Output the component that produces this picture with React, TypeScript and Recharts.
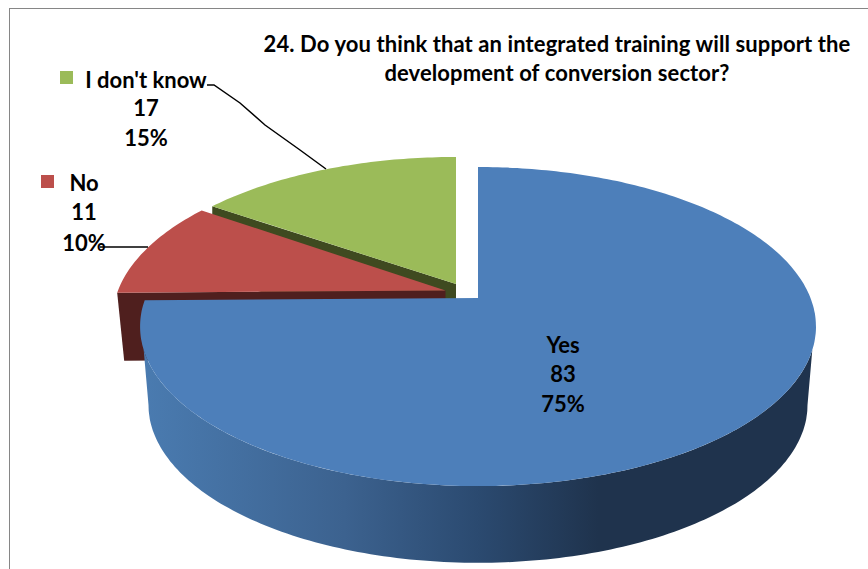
import { PieChart, Pie } from "recharts";

// drawn counter-clockwise from the top so the big slice paints last
const sliceNames = ["I don't know", "No", "Yes"];
const sliceValues = [17, 11, 83];
const sliceColors = ["#9bbb59", "#bc4f4b", "#4d7fba"];
const titleLines = [
  "24. Do you think that an integrated training will support the",
  "development of conversion sector?",
];

const data = sliceNames.map((name, i) => ({
  name,
  value: sliceValues[i],
  fill: sliceColors[i],
}));

// perspective of the tilted disc
const TILT = 0.179;
const SQUASH = 0.4644;
const RADIUS = 332.5;

const explode: Record<string, any> = {
  "I don't know": { dx: -22, dy: -14, sx: 0.985, sy: 0.97, wall: 70, wallColor: "#3f4a20" },
  No: { dx: -32.5, dy: -7.5, sx: 0.985, sy: 1, wall: 68, wallColor: "#4f1f1e" },
  Yes: { dx: 0, dy: 0, sx: 1, sy: 1, wall: 0, wallColor: "" },
};

const labelLayout: Record<string, any> = {
  "I don't know": {
    x: 146, ys: [88, 116, 146], nameX: 146,
    key: [60, 71, 13], keyColor: "#9bbb59",
    leader: "M207,85 L214,85 L240,103 L265,125 L300,150 L326,169",
  },
  No: {
    x: 84, ys: [191, 220, 251], nameX: 84,
    key: [41, 175, 13], keyColor: "#bc4f4b",
    leader: "M100,247 L148,247",
  },
  Yes: { x: 563, ys: [353, 382, 412], nameX: 563 },
};

const FONT = "Lato, 'Open Sans', sans-serif";

function project(cx: number, cy: number, r: number, deg: number, o: any) {
  const a = (deg * Math.PI) / 180;
  const w = 1 + TILT * Math.sin(a);
  return {
    x: cx + (o.dx || 0) + (o.sx * r * Math.cos(a)) / w,
    y: cy + (o.dy || 0) - (o.sy * r * SQUASH * Math.sin(a)) / w,
  };
}

function arc(cx: number, cy: number, r: number, from: number, to: number, o: any) {
  const pts = [];
  const n = Math.max(2, Math.ceil(Math.abs(to - from)));
  for (let i = 0; i <= n; i++) {
    const p = project(cx, cy, r, from + ((to - from) * i) / n, o);
    pts.push(`${p.x.toFixed(1)},${p.y.toFixed(1)}`);
  }
  return pts;
}

function Slice3D(props: any) {
  const { cx, cy, outerRadius, startAngle, endAngle, fill, name } = props;
  const o = explode[name];
  const apex = { x: cx + o.dx, y: cy + o.dy };
  const top = `M${apex.x},${apex.y} L${arc(cx, cy, outerRadius, startAngle, endAngle, o).join(" L")} Z`;

  if (name === "Yes") {
    const lower = { dx: 0, dy: 78.6, sx: 0.975, sy: 0.99 };
    const side =
      "M" +
      arc(cx, cy, outerRadius, -161.5, -18.5, o)
        .concat(arc(cx, cy, outerRadius, -10.4, -169.6, lower))
        .join(" L") +
      " Z";
    return (
      <g>
        <path d={side} fill="url(#sideShade)" />
        <path d={top} fill={fill} />
      </g>
    );
  }

  const edge = project(cx, cy, outerRadius, endAngle, o);
  const inset = name === "No" ? 7 : 0;
  const wall = `M${apex.x},${apex.y} L${edge.x},${edge.y} L${edge.x + inset},${edge.y + o.wall} L${apex.x},${apex.y + o.wall} Z`;
  return (
    <g>
      <path d={wall} fill={o.wallColor} />
      <path d={top} fill={fill} />
    </g>
  );
}

function SliceLabel(props: any) {
  const { name, value, percent } = props;
  const l = labelLayout[name];
  const style = { fontFamily: FONT, fontSize: 22, fontWeight: 700, fill: "#000" };
  return (
    <g>
      {l.leader && <path d={l.leader} fill="none" stroke="#000" strokeWidth={1.5} />}
      {l.key && <rect x={l.key[0]} y={l.key[1]} width={l.key[2]} height={l.key[2]} fill={l.keyColor} />}
      <text x={l.nameX} y={l.ys[0]} textAnchor="middle" style={style}>{name}</text>
      <text x={l.x} y={l.ys[1]} textAnchor="middle" style={style}>{value}</text>
      <text x={l.x} y={l.ys[2]} textAnchor="middle" style={style}>{Math.round(percent * 100)}%</text>
    </g>
  );
}

const titleStyle = { fontFamily: FONT, fontSize: 22, fontWeight: 700, letterSpacing: 0.1 };

export default function App() {
  return (
    <div style={{ position: "absolute", left: 0, top: 0, width: 868, height: 569, background: "#fff", overflow: "hidden" }}>
      <div
        style={{
          position: "absolute",
          left: 9,
          top: 8,
          width: 900,
          height: 600,
          border: "1px solid #868686",
          boxSizing: "border-box",
        }}
      />
      <PieChart width={868} height={569} margin={{ top: 0, right: 0, bottom: 0, left: 0 }}>
        <defs>
          <linearGradient id="sideShade" x1="0" y1="0" x2="1" y2="0">
            <stop offset="0%" stopColor="#4a7bb0" />
            <stop offset="30%" stopColor="#3c628f" />
            <stop offset="50%" stopColor="#2b4a70" />
            <stop offset="68%" stopColor="#1f334d" />
            <stop offset="100%" stopColor="#1f334d" />
          </linearGradient>
        </defs>
        <text x={557} y={52} textAnchor="middle" style={titleStyle}>
          {titleLines[0]}
        </text>
        <text x={557} y={81} textAnchor="middle" style={titleStyle}>
          {titleLines[1]}
        </text>
        <Pie
          data={data}
          dataKey="value"
          nameKey="name"
          cx={478}
          cy={298}
          outerRadius={RADIUS}
          startAngle={90}
          endAngle={450}
          paddingAngle={0}
          stroke="none"
          shape={Slice3D}
          label={SliceLabel}
          labelLine={false}
          isAnimationActive={false}
        />
      </PieChart>
    </div>
  );
}
